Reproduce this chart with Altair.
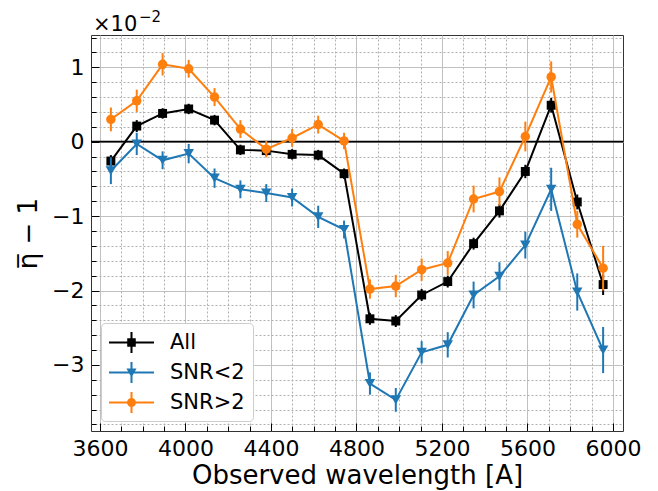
import altair as alt
import pandas as pd

# ---------------- data (values in units of 1e-2) ----------------
wavelength = [3651, 3772, 3893, 4015, 4136, 4257, 4378, 4499, 4621, 4742,
              4863, 4984, 5105, 5227, 5348, 5469, 5590, 5711, 5833, 5954]

all_val = [-0.26, 0.21, 0.38, 0.44, 0.29, -0.11, -0.12, -0.17, -0.18, -0.43,
           -2.38, -2.41, -2.06, -1.88, -1.37, -0.93, -0.40, 0.49, -0.81, -1.92]
all_err = [0.08, 0.08, 0.07, 0.07, 0.07, 0.07, 0.07, 0.07, 0.07, 0.07,
           0.08, 0.08, 0.08, 0.08, 0.08, 0.09, 0.09, 0.10, 0.10, 0.14]

low_val = [-0.39, -0.03, -0.25, -0.16, -0.49, -0.64, -0.69, -0.75, -1.01, -1.18,
           -3.25, -3.47, -2.83, -2.73, -2.06, -1.81, -1.39, -0.64, -2.02, -2.80]
low_err = [0.18, 0.15, 0.12, 0.13, 0.13, 0.12, 0.12, 0.12, 0.15, 0.12,
           0.15, 0.16, 0.15, 0.17, 0.18, 0.19, 0.18, 0.29, 0.25, 0.31]

high_val = [0.30, 0.55, 1.04, 0.98, 0.60, 0.17, -0.10, 0.05, 0.23, 0.01,
            -1.98, -1.94, -1.72, -1.63, -0.77, -0.67, 0.07, 0.87, -1.11, -1.70]
high_err = [0.16, 0.15, 0.15, 0.12, 0.12, 0.12, 0.11, 0.12, 0.12, 0.11,
            0.13, 0.15, 0.15, 0.16, 0.18, 0.19, 0.20, 0.21, 0.18, 0.30]

series_names = ["All", "SNR<2", "SNR>2"]
series_colors = ["#000000", "#1f77b4", "#ff7f0e"]
series_shapes = ["square", "triangle-down", "circle"]
series_sizes = [80, 110, 90]

major_x = [3600, 4000, 4400, 4800, 5200, 5600, 6000]
minor_x = [3700, 3800, 3900, 4100, 4200, 4300, 4500, 4600, 4700, 4900, 5000,
           5100, 5300, 5400, 5500, 5700, 5800, 5900]
major_y = [-3, -2, -1, 0, 1]
minor_y = [-3.8, -3.6, -3.4, -3.2, -2.8, -2.6, -2.4, -2.2, -1.8, -1.6, -1.4,
           -1.2, -0.8, -0.6, -0.4, -0.2, 0.2, 0.4, 0.6, 0.8, 1.2, 1.4]
zero_line = [0.0]
offset_base = ["\u00d710"]
offset_exp = ["\u22122"]

# ---------------- table ----------------
frames = []
for name, vals, errs in zip(series_names, [all_val, low_val, high_val],
                            [all_err, low_err, high_err]):
    d = pd.DataFrame({"wavelength": wavelength, "value": vals, "err": errs})
    d["series"] = name
    d["lo"] = d["value"] - d["err"]
    d["hi"] = d["value"] + d["err"]
    frames.append(d)
df = pd.concat(frames, ignore_index=True)

FONT = "DejaVu Sans"
xscale = alt.Scale(domain=[3558, 6047], nice=False, zero=False)
yscale = alt.Scale(domain=[-3.888, 1.434], nice=False, zero=False)

# ---------------- axes carriers ----------------
minor_axes = alt.Chart(df).mark_point(opacity=0).encode(
    x=alt.X("wavelength:Q", scale=xscale,
            axis=alt.Axis(orient="bottom", values=minor_x, labels=False, title=None,
                          tickSize=5, offset=-5, domain=False, tickColor="black",
                          tickWidth=1, grid=True, gridDash=[2, 2],
                          gridColor="#b0b0b0", gridWidth=1)),
    y=alt.Y("value:Q", scale=yscale,
            axis=alt.Axis(orient="left", values=minor_y, labels=False, title=None,
                          tickSize=5, offset=-5, domain=False, tickColor="black",
                          tickWidth=1, grid=True, gridDash=[2, 2],
                          gridColor="#b0b0b0", gridWidth=1)),
)

major_axes = alt.Chart(df).mark_point(opacity=0).encode(
    x=alt.X("wavelength:Q", scale=xscale,
            axis=alt.Axis(orient="bottom", values=major_x, format="d",
                          title="Observed wavelength [A]",
                          tickSize=8, offset=-8, domain=False, tickColor="black",
                          tickWidth=1, labelPadding=7, labelFont=FONT,
                          labelFontSize=22, labelColor="black",
                          titleFont=FONT, titleFontSize=26, titleFontWeight="normal",
                          titleColor="black", titlePadding=3,
                          grid=True, gridColor="#c0c0c0", gridWidth=1)),
    y=alt.Y("value:Q", scale=yscale,
            axis=alt.Axis(orient="left", values=major_y, format="d",
                          labelExpr="replace(datum.label, '-', '\u2212')",
                          title="\u03b7\u0305 \u2212 1",
                          tickSize=8, offset=-8, domain=False, tickColor="black",
                          tickWidth=1, labelPadding=7, labelFont=FONT,
                          labelFontSize=22, labelColor="black",
                          titleFont=FONT, titleFontSize=26, titleFontWeight="normal",
                          titleColor="black", titlePadding=10,
                          grid=True, gridColor="#c0c0c0", gridWidth=1)),
)

zero_rule = alt.Chart(pd.DataFrame({"zero": zero_line})).mark_rule(
    color="black", strokeWidth=1.8
).encode(y=alt.Y("zero:Q", scale=yscale, axis=None))

# offset text (x10^-2) just above the top-left corner of the axes
offset_label = alt.Chart(pd.DataFrame({"t": offset_base})).mark_text(
    align="left", baseline="alphabetic", font=FONT, fontSize=21, color="black"
).encode(x=alt.value(2), y=alt.value(-4), text="t:N")
offset_power = alt.Chart(pd.DataFrame({"t": offset_exp})).mark_text(
    align="left", baseline="alphabetic", font=FONT, fontSize=15, color="black"
).encode(x=alt.value(48), y=alt.value(-13), text="t:N")

# ---------------- series layers ----------------
series_layers = []
for name, col, shp, sz in zip(series_names, series_colors, series_shapes, series_sizes):
    d = df[df["series"] == name]
    base = alt.Chart(d)
    xe = alt.X("wavelength:Q", scale=xscale, axis=None)
    line = base.mark_line(color=col, strokeWidth=2).encode(
        x=xe, y=alt.Y("value:Q", scale=yscale, axis=None))
    err = base.mark_rule(color=col, strokeWidth=2).encode(
        x=xe, y=alt.Y("lo:Q", scale=yscale, axis=None), y2="hi:Q")
    pts = base.mark_point(shape=shp, filled=True, size=sz, color=col, opacity=1).encode(
        x=xe, y=alt.Y("value:Q", scale=yscale, axis=None))
    series_layers += [line, err, pts]

# ---------------- legend (line + errorbar + marker symbols) ----------------
hline = "M-2,-0.09H2V0.09H-2Z"
vbar = "M-0.09,-0.93H0.09V0.93H-0.09Z"
square = "M-0.38,-0.38H0.38V0.38H-0.38Z"
tri = "M-0.45,-0.36L0.45,-0.36L0,0.44Z"
circ = "M0.4,0A0.4,0.4 0 1,1 -0.4,0A0.4,0.4 0 1,1 0.4,0Z"
legend_paths = [hline + vbar + square, hline + vbar + tri, hline + vbar + circ]

legend_layer = alt.Chart(pd.DataFrame({"series": series_names})).mark_point(
    filled=True, opacity=1, size=506
).encode(
    color=alt.Color("series:N", scale=alt.Scale(domain=series_names, range=series_colors),
                    legend=alt.Legend(title=None)),
    shape=alt.Shape("series:N", scale=alt.Scale(domain=series_names, range=legend_paths),
                    legend=alt.Legend(title=None)),
).transform_filter("false")

chart = alt.layer(
    minor_axes, major_axes, zero_rule, *series_layers, offset_label, offset_power,
    legend_layer
).resolve_axis(
    x="independent", y="independent"
).properties(
    width=532, height=396,
    autosize=alt.AutoSizeParams(type="none"),
    padding={"left": 83, "top": 27, "right": 27, "bottom": 62},
).configure_view(
    stroke="#333333", strokeWidth=1
).configure_legend(
    orient="bottom-left", offset=10, padding=8, fillColor="white",
    strokeColor="#cccccc", strokeWidth=1, cornerRadius=4,
    labelFont=FONT, labelFontSize=21, labelColor="black",
    symbolOffset=11, labelOffset=27, rowPadding=8, symbolSize=506,
    symbolStrokeWidth=0,
)

chart.save("out.html", embed_options={"renderer": "svg", "actions": False})
